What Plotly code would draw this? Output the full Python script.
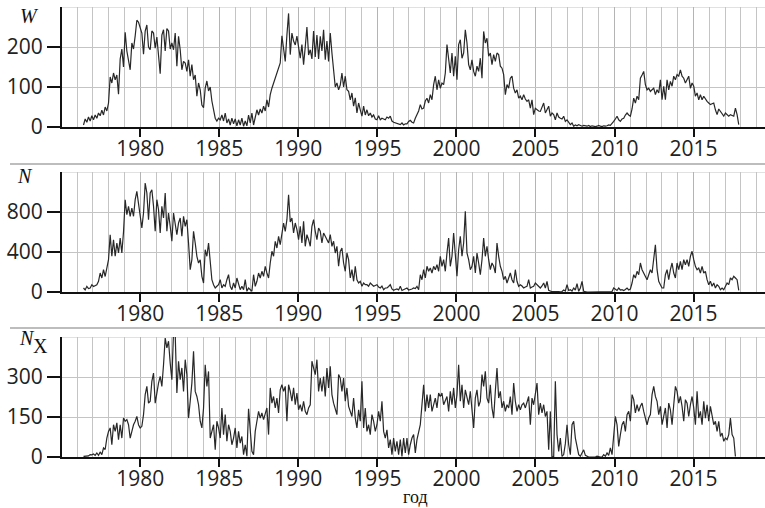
import plotly.graph_objects as go

# Monthly-scale samples, starting at T0 with a fixed step (years)
T0 = 1976.41
STEP = 0.10547

# Wolf number W
W = [
    5, 20, 12, 25, 15, 28, 18, 30, 22, 35,
    28, 42, 30, 50, 40, 60, 125, 110, 135, 118,
    130, 82, 170, 195, 150, 237, 190, 160, 143, 210,
    195, 228, 267, 262, 245, 235, 182, 240, 255, 200,
    193, 240, 235, 197, 225, 175, 133, 230, 243, 190,
    246, 240, 195, 210, 193, 235, 152, 227, 193, 143,
    164, 160, 139, 168, 127, 156, 118, 130, 77, 110,
    93, 55, 48, 97, 115, 90, 100, 65, 45, 22,
    15, 22, 18, 30, 15, 35, 10, 20, 5, 22,
    8, 20, 3, 18, 5, 22, 2, 15, 3, 30,
    10, 35, 5, 25, 43, 30, 45, 35, 52, 40,
    68, 50, 81, 97, 110, 125, 139, 150, 160, 228,
    200, 164, 230, 284, 181, 235, 215, 205, 227, 195,
    172, 206, 156, 200, 250, 180, 193, 170, 240, 175,
    230, 170, 227, 190, 243, 168, 215, 164, 235, 185,
    150, 100, 110, 93, 105, 135, 100, 127, 93, 89,
    68, 85, 52, 73, 35, 60, 43, 27, 52, 30,
    43, 28, 35, 25, 30, 20, 18, 28, 18, 22,
    20, 18, 25, 22, 27, 15, 12, 10, 8, 7,
    6, 10, 5, 8, 8, 14, 17, 12, 10, 22,
    31, 40, 56, 45, 47, 65, 72, 60, 81, 68,
    106, 127, 93, 118, 97, 110, 106, 135, 206, 172,
    135, 185, 127, 177, 118, 206, 218, 172, 185, 243,
    210, 156, 143, 168, 139, 127, 152, 139, 172, 122,
    239, 210, 222, 177, 185, 156, 181, 164, 185, 181,
    152, 147, 131, 81, 106, 97, 122, 127, 97, 85,
    93, 72, 77, 68, 81, 70, 64, 68, 47, 68,
    31, 47, 43, 40, 39, 50, 60, 35, 45, 52,
    27, 35, 31, 18, 35, 25, 22, 20, 27, 14,
    18, 12, 6, 10, 2, 5, 3, 6, 3, 2,
    4, 2, 2, 4, 1, 3, 2, 1, 2, 4,
    2, 1, 3, 2, 3, 5, 4, 8, 14, 20,
    27, 18, 14, 20, 22, 30, 35, 30, 27, 45,
    72, 60, 77, 68, 122, 130, 139, 106, 93, 97,
    89, 93, 97, 81, 93, 85, 118, 68, 102, 68,
    118, 93, 114, 102, 127, 118, 131, 127, 143, 127,
    122, 110, 118, 127, 97, 110, 102, 77, 85, 68,
    81, 68, 77, 70, 64, 60, 56, 58, 60, 43,
    31, 45, 39, 30, 27, 35, 31, 27, 31, 28,
    27, 47, 31, 6,
]

# Event count N
N = [
    40, 20, 57, 35, 40, 73, 55, 65, 73, 107,
    190, 140, 223, 155, 257, 323, 573, 357, 523, 357,
    490, 390, 540, 390, 600, 923, 773, 857, 757, 840,
    757, 923, 1007, 890, 740, 640, 790, 1090, 990, 723,
    990, 1023, 857, 607, 923, 823, 590, 857, 740, 990,
    607, 790, 657, 507, 790, 673, 573, 690, 740, 557,
    757, 657, 723, 490, 223, 323, 607, 490, 357, 290,
    323, 157, 90, 423, 357, 490, 290, 123, 73, 40,
    57, 73, 123, 40, 73, 57, 123, 173, 57, 23,
    90, 40, 140, 73, 23, 57, 23, 123, 7, 40,
    23, 7, 173, 57, 107, 190, 140, 207, 157, 257,
    190, 140, 290, 407, 357, 507, 440, 557, 473, 607,
    690, 607, 723, 973, 700, 740, 590, 690, 623, 523,
    657, 490, 707, 457, 573, 523, 457, 657, 723, 607,
    523, 640, 607, 490, 590, 557, 523, 490, 573, 457,
    507, 390, 457, 257, 407, 440, 290, 207, 390, 323,
    140, 223, 107, 257, 123, 90, 107, 57, 90, 73,
    73, 57, 90, 73, 57, 65, 73, 50, 40, 60,
    23, 40, 40, 55, 73, 30, 17, 25, 30, 20,
    57, 15, 23, 35, 40, 20, 23, 30, 40, 35,
    57, 23, 173, 123, 223, 140, 257, 207, 240, 190,
    257, 223, 273, 207, 357, 257, 323, 207, 390, 540,
    257, 357, 590, 390, 157, 423, 557, 357, 490, 807,
    390, 323, 223, 257, 357, 190, 390, 290, 173, 323,
    540, 357, 457, 323, 223, 290, 257, 190, 490, 357,
    257, 207, 123, 157, 90, 140, 190, 123, 90, 223,
    107, 57, 73, 60, 40, 50, 57, 123, 40, 50,
    57, 90, 73, 55, 40, 60, 90, 40, 107, 17,
    7, 3, 5, 2, 4, 3, 2, 5, 20, 10,
    73, 15, 23, 10, 40, 20, 83, 7, 40, 107,
    7, 2, 0, 0, 0, 0, 0, 0, 0, 0,
    0, 0, 0, 0, 0, 0, 0, 5, 40, 23,
    15, 40, 20, 23, 15, 25, 40, 20, 30, 90,
    173, 140, 207, 173, 290, 223, 190, 157, 123, 173,
    223, 190, 323, 473, 223, 107, 73, 40, 40, 173,
    223, 123, 223, 290, 190, 140, 290, 223, 307, 223,
    323, 273, 323, 257, 357, 407, 323, 257, 223, 240,
    190, 257, 190, 207, 123, 73, 107, 57, 90, 40,
    73, 57, 23, 40, 23, 57, 90, 73, 140, 123,
    157, 140, 123, 17,
]

# X-class event count N_X
NX = [
    2, 3, 5, 4, 9, 8, 11, 6, 15, 6,
    19, 9, 34, 28, 71, 96, 109, 46, 121, 96,
    128, 65, 121, 71, 146, 134, 140, 121, 71, 96,
    121, 134, 152, 121, 109, 115, 159, 234, 265, 202,
    209, 284, 315, 202, 246, 277, 302, 265, 346, 446,
    409, 434, 352, 290, 470, 460, 240, 359, 290, 334,
    246, 365, 309, 146, 209, 277, 396, 246, 227, 196,
    134, 109, 184, 346, 265, 321, 71, 96, 121, 27,
    134, 109, 71, 184, 84, 159, 59, 121, 96, 46,
    71, 109, 34, 96, 52, 77, 9, 46, 3, 181,
    84, 21, 9, 96, 134, 171, 146, 165, 140, 165,
    184, 84, 259, 202, 227, 184, 221, 165, 252, 271,
    246, 265, 134, 271, 246, 209, 259, 196, 240, 177,
    196, 171, 209, 171, 159, 184, 196, 359, 334, 309,
    365, 246, 296, 246, 302, 227, 334, 259, 340, 234,
    202, 184, 159, 309, 296, 246, 296, 209, 259, 190,
    171, 152, 221, 146, 109, 177, 134, 284, 109, 184,
    96, 121, 84, 159, 134, 96, 121, 171, 134, 209,
    96, 71, 102, 34, 65, 9, 71, 21, 59, 9,
    65, 2, 71, 15, 71, 9, 46, 71, 84, 15,
    65, 96, 121, 196, 271, 171, 234, 184, 234, 171,
    202, 221, 184, 240, 227, 240, 196, 209, 227, 171,
    246, 196, 259, 184, 234, 346, 209, 271, 184, 252,
    221, 196, 246, 177, 109, 221, 252, 190, 209, 309,
    265, 321, 221, 202, 271, 184, 146, 246, 334, 221,
    246, 184, 209, 171, 196, 184, 227, 159, 277, 209,
    171, 196, 177, 196, 202, 184, 209, 227, 121, 221,
    196, 234, 277, 159, 202, 165, 196, 152, 171, 27,
    171, 2, 0, 284, 84, 21, 71, 2, 9, 50,
    121, 46, 9, 121, 134, 71, 34, 9, 3, 15,
    27, 6, 2, 0, 0, 0, 0, 0, 3, 0,
    0, 0, 9, 3, 15, 6, 34, 9, 84, 152,
    121, 40, 84, 121, 134, 96, 159, 171, 134, 234,
    215, 165, 196, 171, 190, 202, 171, 146, 121, 146,
    159, 234, 265, 227, 209, 159, 190, 121, 159, 184,
    109, 202, 177, 121, 196, 265, 246, 202, 227, 190,
    134, 215, 202, 152, 196, 227, 184, 121, 246, 146,
    171, 121, 209, 146, 196, 134, 190, 152, 121, 134,
    96, 134, 77, 90, 59, 71, 65, 84, 146, 84,
    71, 2, None, None,
]

YEARS = [T0 + i * STEP for i in range(len(W))]

PANELS = [
    # (values, y range top, tick values)
    (W, 300, [0, 100, 200]),
    (N, 1200, [0, 400, 800]),
    (NX, 450, [0, 150, 300]),
]
X_TICKS = [1980, 1985, 1990, 1995, 2000, 2005, 2010, 2015]

# pixel layout of the 765x508 canvas
FIG_W, FIG_H = 765, 508
M_L, M_R, M_T, M_B = 62, 0, 7, 51
PLOT_H = FIG_H - M_T - M_B
PANEL_PX = [(7, 127), (172, 292), (337, 457)]  # (top, bottom) of each panel


def py(px):
    return (FIG_H - M_B - px) / PLOT_H


fig = go.Figure()
tick_font = dict(family="Open Sans", size=21, color="#222222")
grid_c = "#c4c4c4"

for k, (vals, top, tv) in enumerate(PANELS):
    ax = "" if k == 0 else str(k + 1)
    fig.add_trace(go.Scatter(
        x=YEARS, y=vals, mode="lines",
        line=dict(color="#282828", width=1.2),
        xaxis="x" + ax, yaxis="y" + ax,
        showlegend=False, hoverinfo="skip",
    ))
    t_px, b_px = PANEL_PX[k]
    fig.layout["xaxis" + ax] = dict(
        domain=[0, 1], anchor="y" + ax,
        range=[1975.05, 2019.52],
        tickvals=X_TICKS, ticks="outside", ticklen=8, tickwidth=1.5,
        tickcolor="#111111", tickfont=tick_font, ticklabelstandoff=-6,
        showline=True, linecolor="#111111", linewidth=2,
        showgrid=True, gridcolor="#b4b4b4", gridwidth=1,
        minor=dict(dtick=1, tick0=1975, showgrid=True,
                   gridcolor=grid_c, gridwidth=1, ticklen=0),
        zeroline=False, fixedrange=True,
    )
    fig.layout["yaxis" + ax] = dict(
        domain=[py(b_px), py(t_px)], anchor="x" + ax,
        range=[0, top], tickvals=tv,
        ticks="outside", ticklen=13, tickwidth=1.5, tickcolor="#111111",
        tickfont=tick_font,
        showline=True, linecolor="#111111", linewidth=2,
        showgrid=True, gridcolor=grid_c, gridwidth=1,
        zeroline=False, fixedrange=True,
    )
    # top border line of each panel
    fig.add_shape(type="line", xref="x" + ax + " domain", yref="y" + ax,
                  x0=0, x1=1, y0=top, y1=top,
                  line=dict(color=grid_c, width=1), layer="below")

# separators between panels
for sep_px in (164, 328):
    fig.add_shape(type="line", xref="paper", yref="paper",
                  x0=(10 - M_L) / (FIG_W - M_L), x1=1,
                  y0=py(sep_px), y1=py(sep_px),
                  line=dict(color="#bdbdbd", width=2))

serif = "Liberation Serif"
labels = [
    ("W", 29, 16, True, 20),
    ("N", 25, 176, True, 20),
    ("N", 27, 338, True, 20),
    ("X", 40, 346, False, 20),
]
for txt, xpx, ypx, ital, size in labels:
    fig.add_annotation(
        text=f"<i>{txt}</i>" if ital else txt,
        xref="paper", yref="paper",
        x=(xpx - M_L) / (FIG_W - M_L), y=py(ypx),
        xanchor="center", yanchor="middle", showarrow=False,
        font=dict(family=serif, size=size, color="#111111"),
    )

fig.add_annotation(
    text="год", xref="paper", yref="paper",
    x=(415 - M_L) / (FIG_W - M_L), y=py(497),
    xanchor="center", yanchor="middle", showarrow=False,
    font=dict(family=serif, size=18, color="#111111"),
)

fig.update_layout(
    width=FIG_W, height=FIG_H,
    margin=dict(l=M_L, r=M_R, t=M_T, b=M_B),
    paper_bgcolor="white", plot_bgcolor="white",
)

fig.write_html("out.html")
